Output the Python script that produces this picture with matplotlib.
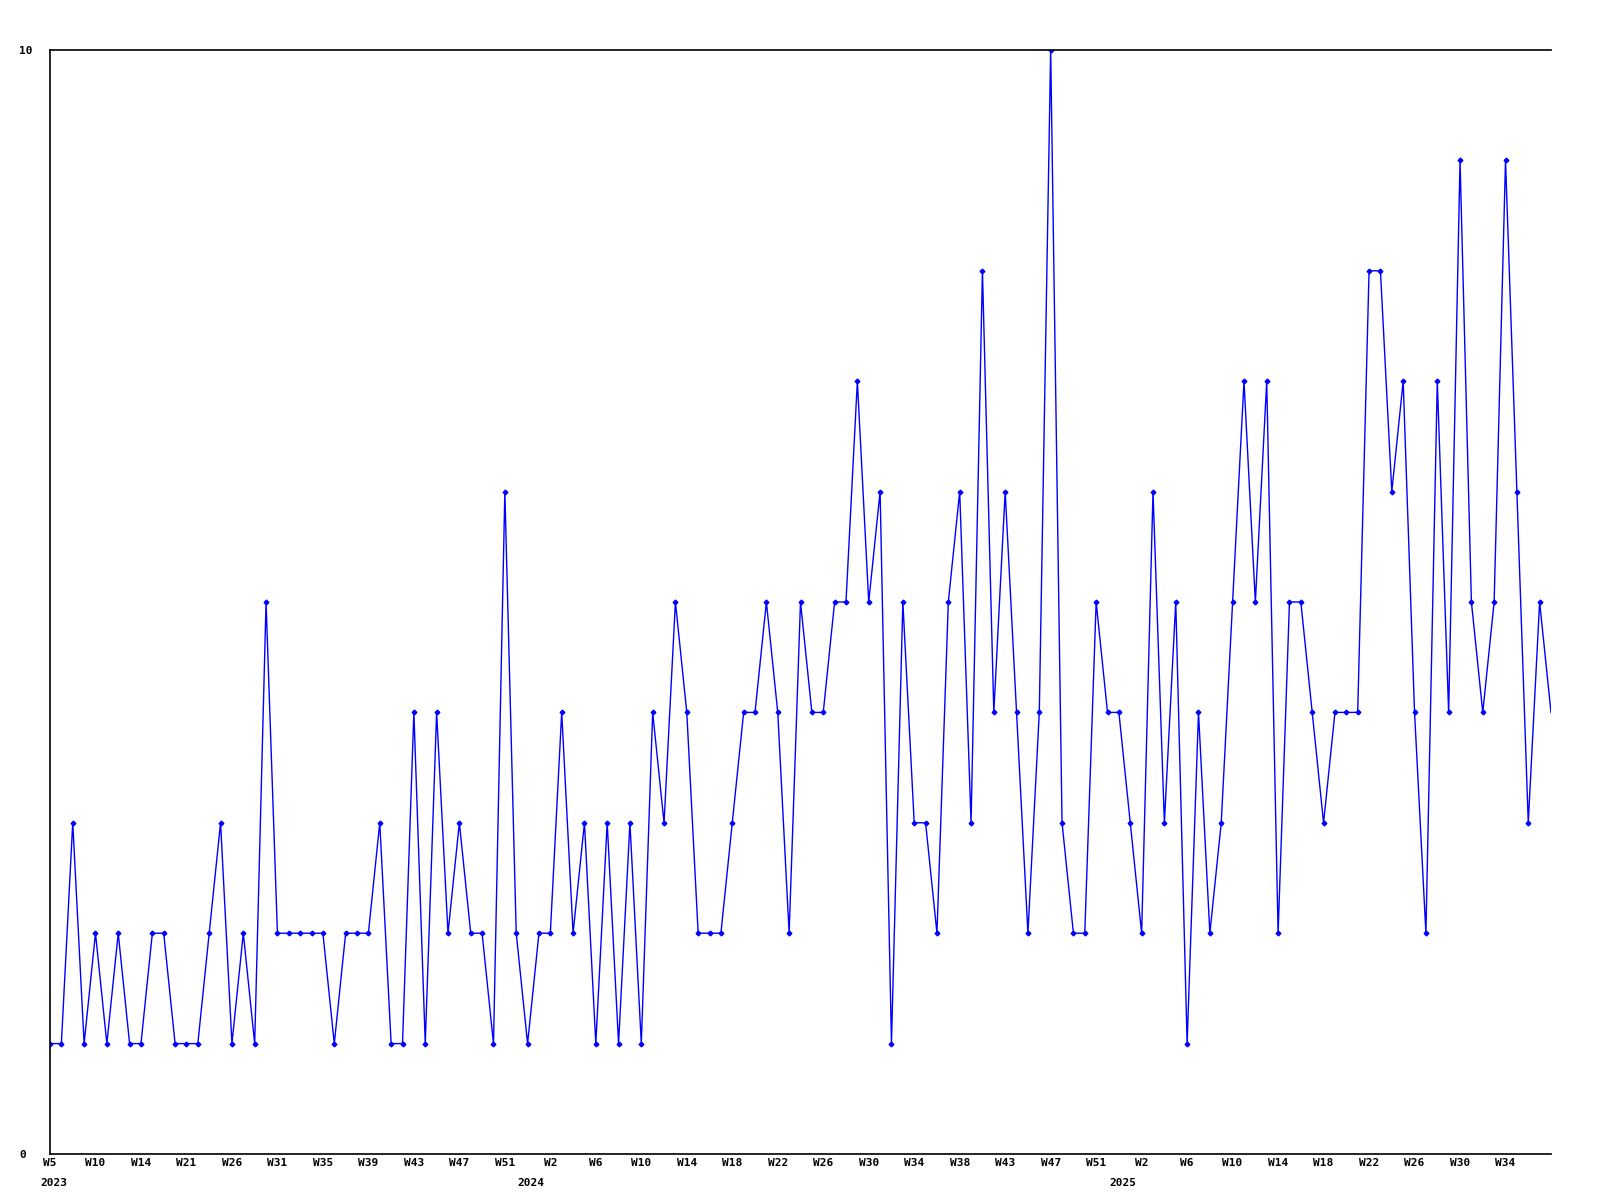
import numpy as np
import matplotlib
matplotlib.use("Agg")
import matplotlib.pyplot as plt
import matplotlib.transforms as mtransforms

# weekly counts, one value per data point (W5 2023 onwards)
counts = [1, 1, 3, 1, 2, 1, 2, 1, 1, 2, 2, 1, 1, 1, 2, 3, 1, 2, 1, 5,
          2, 2, 2, 2, 2, 1, 2, 2, 2, 3, 1, 1, 4, 1, 4, 2, 3, 2, 2, 1,
          6, 2, 1, 2, 2, 4, 2, 3, 1, 3, 1, 3, 1, 4, 3, 5, 4, 2, 2, 2,
          3, 4, 4, 5, 4, 2, 5, 4, 4, 5, 5, 7, 5, 6, 1, 5, 3, 3, 2, 5,
          6, 3, 8, 4, 6, 4, 2, 4, 10, 3, 2, 2, 5, 4, 4, 3, 2, 6, 3, 5,
          1, 4, 2, 3, 5, 7, 5, 7, 2, 5, 5, 4, 3, 4, 4, 4, 8, 8, 6, 7,
          4, 2, 7, 4, 9, 5, 4, 5, 9, 6, 3, 5, 4]

# labelled every 4th point
week_labels = ["W5", "W10", "W14", "W21", "W26", "W31", "W35", "W39", "W43",
               "W47", "W51", "W2", "W6", "W10", "W14", "W18", "W22", "W26",
               "W30", "W34", "W38", "W43", "W47", "W51", "W2", "W6", "W10",
               "W14", "W18", "W22", "W26", "W30", "W34"]
year_labels = ["2023", "2024", "2025"]
year_pos = [0, 42, 94]

x = np.arange(len(counts))
tick_pos = x[::4][:len(week_labels)]

font = dict(family="DejaVu Sans Mono", weight="bold", size=8)

fig = plt.figure(figsize=(16, 12), dpi=100)
ax = fig.add_axes([50 / 1600, 46 / 1200, 1501 / 1600, 1104 / 1200])

ax.plot(x, counts, color="#0000ff", linewidth=1.0, marker="D", markersize=2.4,
        markevery=slice(0, len(counts) - 1))

ax.set_xlim(0, len(counts) - 1)
ax.set_ylim(0, 10)

for side in ["left", "bottom", "top"]:
    ax.spines[side].set_linewidth(1.2)
    ax.spines[side].set_color("black")
ax.spines["right"].set_visible(False)

ax.set_xticks(tick_pos)
ax.set_xticklabels(week_labels, **font)

ax.set_yticks([0, 10])
ax.set_yticklabels(["0", "10"], **font)
for lab in ax.get_yticklabels():
    lab.set_horizontalalignment("left")
ax.tick_params(axis="x", length=0, pad=3)
ax.tick_params(axis="y", length=0, pad=22)

trans = (mtransforms.blended_transform_factory(ax.transData, ax.transAxes)
         + mtransforms.ScaledTranslation(-10 / 100, -29 / 100, fig.dpi_scale_trans))
for yr, p in zip(year_labels, year_pos):
    ax.text(p, 0, yr, transform=trans, ha="left", va="center", **font)

fig.savefig("out.png", dpi=100)
